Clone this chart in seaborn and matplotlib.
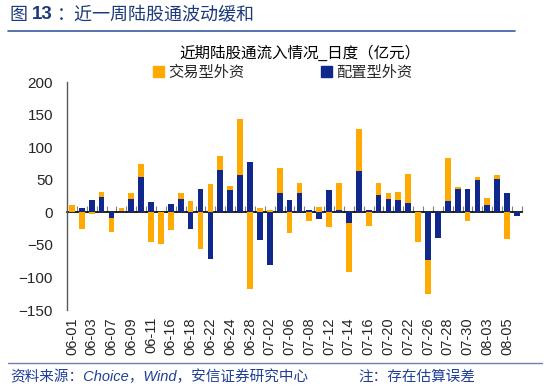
import matplotlib

matplotlib.use("Agg")
import matplotlib.pyplot as plt
import numpy as np
import seaborn as sns
from matplotlib.lines import Line2D
from matplotlib.patches import Patch

# trading days shown on the chart
dates = [
    "06-01", "06-02", "06-03", "06-04", "06-07", "06-08", "06-09", "06-10",
    "06-11", "06-15", "06-16", "06-17", "06-18", "06-21", "06-22", "06-23",
    "06-24", "06-25", "06-28", "06-29", "07-02", "07-05", "07-06", "07-07",
    "07-08", "07-09", "07-12", "07-13", "07-14", "07-15", "07-16", "07-19",
    "07-20", "07-21", "07-22", "07-23", "07-26", "07-27", "07-28", "07-29",
    "07-30", "08-02", "08-03", "08-04", "08-05", "08-06",
]
# 配置型外资 (亿元)
allocation = [
    0, 6, 19, 23, -9, 2, 20, 54, 16, 1, 13, 21, -26, 36, -71, 65,
    35, 57, 78, -42, -81, 30, 19, 29, 3, -10, 34, 4, -16, 63, 3, 26,
    20, 19, 15, 0, -73, -39, 17, 36, 36, 49, 11, 51, 29, -5,
]
# 交易型外资 (亿元)
trading = [
    11, -26, -2, 8, -21, 4, 10, 20, -46, -48, -27, 8, 17, -57, 44, 21,
    5, 86, -118, 7, 4, 38, -31, 16, -13, 8, -23, 41, -76, 65, -21, 19,
    10, 13, 44, -45, -52, 0, 67, 3, -13, 5, 11, 7, -41, 0,
]
yticks = [-150, -100, -50, 0, 50, 100, 150, 200]

ORANGE = "#FFAA00"
NAVY = "#10288C"
TITLE_BLUE = "#1F3A7A"

sns.set_style("white")
plt.rcParams["font.family"] = ["Liberation Sans", "Noto Sans CJK SC"]

fig = plt.figure(figsize=(5.5, 3.91), dpi=100)
ax = fig.add_axes([0.1218, 0.207, 0.8272, 0.583])

alloc = np.array(allocation)
trade = np.array(trading)
bottom = np.where(alloc * trade > 0, alloc, 0)

sns.barplot(x=dates, y=allocation, color=NAVY, saturation=1, width=0.58,
            errorbar=None, ax=ax, linewidth=0)
sns.barplot(x=dates, y=trading, bottom=bottom, color=ORANGE, saturation=1,
            width=0.58, errorbar=None, ax=ax, linewidth=0)

ax.set_xlim(-0.5, len(dates) - 0.5)
ax.set_ylim(-150, 200)
ax.set_yticks(yticks)
ax.set_xticks(range(0, len(dates), 2))
ax.set_xticklabels(dates[::2], rotation=90, fontsize=10.5)
ax.tick_params(axis="x", length=0, pad=5)
ax.tick_params(axis="y", direction="in", length=4, color="#7f7f7f",
               labelsize=11, pad=10)
ax.set_xlabel("")
ax.set_ylabel("")
for side in ["top", "right", "bottom"]:
    ax.spines[side].set_visible(False)
ax.spines["left"].set_color("#595959")
ax.spines["left"].set_linewidth(1.0)

# zero line with category boundary ticks
zero_frac = (0 - yticks[0]) / (yticks[-1] - yticks[0])
sec = ax.secondary_xaxis(zero_frac)
sec.set_xticks(np.arange(0.5, len(dates), 1))
sec.tick_params(direction="in", length=4, color="#808080", labelbottom=False)
sec.spines["bottom"].set_color("black")
sec.spines["bottom"].set_linewidth(1.2)

# legend
handles = [Patch(color=ORANGE, label="交易型外资"),
           Patch(color=NAVY, label="配置型外资")]
fig.legend(handles=handles, loc="center", bbox_to_anchor=(0.514, 0.814),
           ncol=2, frameon=False, fontsize=11, handlelength=0.7,
           handleheight=0.7, handletextpad=0.3, columnspacing=5.0)

fig.text(0.545, 0.865, "近期陆股通流入情况_日度（亿元）", ha="center",
         va="center", fontsize=11.2, color="black")

# header
fig.text(0.018, 0.962, "图", fontsize=13, color=TITLE_BLUE,
         va="center", family=["Noto Sans CJK SC"])
fig.text(0.058, 0.962, "13", fontsize=13.5, color=TITLE_BLUE,
         va="center", weight="bold")
fig.text(0.104, 0.962, "：近一周陆股通波动缓和", fontsize=13,
         color=TITLE_BLUE, va="center", family=["Noto Sans CJK SC"])
fig.add_artist(Line2D([8 / 550, 515 / 550], [1 - 31 / 391] * 2,
                      color="#3B5AA0", linewidth=1.2))

# footer
fig.add_artist(Line2D([8 / 550, 542 / 550], [1 - 363 / 391] * 2,
                      color="#6F7FB5", linewidth=1.0))
fig.text(0.018, 1 - 377 / 391, "资料来源：Choice，Wind，安信证券研究中心",
         fontsize=10.5, color="#1F3F99", style="italic", va="center")
fig.text(358 / 550, 1 - 377 / 391, "注：存在估算误差", fontsize=10.5,
         color="#1F3F99", style="italic", va="center")

fig.savefig("out.png", dpi=100)
plt.close(fig)
